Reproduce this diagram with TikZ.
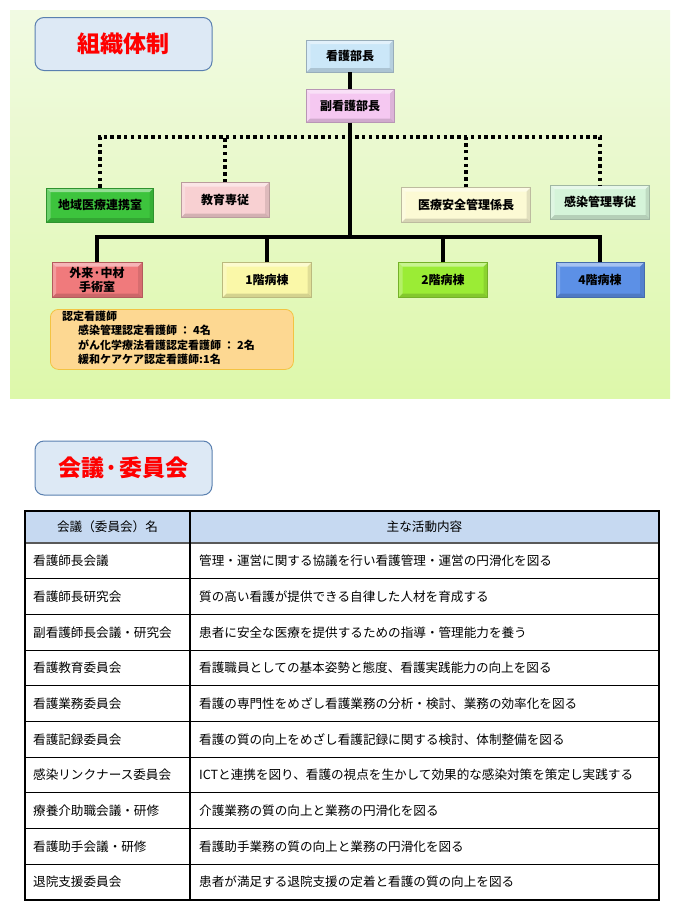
\documentclass[tikz,border=0pt]{standalone}
\usepackage{fontspec}
\setmainfont{Noto Sans CJK JP}
\usetikzlibrary{positioning,calc}

\definecolor{panelTop}{HTML}{F1FAE3}
\definecolor{panelBot}{HTML}{DDF8AA}
\definecolor{titleFill}{HTML}{DDE9F5}
\definecolor{titleLine}{HTML}{5A80B0}
\definecolor{headFill}{HTML}{C6D9F1}
\definecolor{noteFill}{HTML}{FDD892}
\definecolor{noteLine}{HTML}{F3C342}
\definecolor{buchoFill}{HTML}{CBE7F8}
\definecolor{fukuFill}{HTML}{F5C8F1}
\definecolor{chiikiFill}{HTML}{3DC43D}
\definecolor{kyoikuFill}{HTML}{F8D0D2}
\definecolor{anzenFill}{HTML}{FCFAD4}
\definecolor{kansenFill}{HTML}{D5F4D9}
\definecolor{gairaiFill}{HTML}{F07A7C}
\definecolor{wardOneFill}{HTML}{FAF8A8}
\definecolor{wardTwoFill}{HTML}{9BEC35}
\definecolor{wardFourFill}{HTML}{5C90E6}

\tikzset{
  bevel/.style={fill=#1, draw=#1!75!black, line width=.4pt, inner sep=0pt,
    font=\fontsize{12}{14.5}\selectfont\bfseries, align=center,
    path picture={
      \fill[white,opacity=.45] (path picture bounding box.north west) -- (path picture bounding box.north east)
        -- ([shift={(-4pt,-4pt)}]path picture bounding box.north east) -- ([shift={(4pt,-4pt)}]path picture bounding box.north west) -- cycle;
      \fill[white,opacity=.25] (path picture bounding box.north west) -- (path picture bounding box.south west)
        -- ([shift={(4pt,4pt)}]path picture bounding box.south west) -- ([shift={(4pt,-4pt)}]path picture bounding box.north west) -- cycle;
      \fill[black,opacity=.15] (path picture bounding box.south west) -- (path picture bounding box.south east)
        -- ([shift={(-4pt,4pt)}]path picture bounding box.south east) -- ([shift={(4pt,4pt)}]path picture bounding box.south west) -- cycle;
      \fill[black,opacity=.10] (path picture bounding box.north east) -- (path picture bounding box.south east)
        -- ([shift={(-4pt,4pt)}]path picture bounding box.south east) -- ([shift={(-4pt,-4pt)}]path picture bounding box.north east) -- cycle;
    }},
  titlebox/.style={draw=titleLine, fill=titleFill, line width=1pt, rounded corners=9pt,
    minimum width=177pt, minimum height=53pt, text=red, font=\fontsize{23}{26}\selectfont\bfseries},
  solidline/.style={line width=3.2pt, black},
  dotline/.style={line width=3.4pt, black, dash pattern=on 3.4pt off 3.4pt},
  cell/.style={anchor=west, inner sep=0pt, font=\fontsize{12.6}{15}\selectfont},
}

\begin{document}
\begin{tikzpicture}[x=1pt,y=-1pt]
\useasboundingbox[fill=white] (0,0) rectangle (680,918);
\shade[top color=panelTop, bottom color=panelBot] (10,10) rectangle (670,398);

% organisation
\node[titlebox] (orgtitle) at (123.5,44) {組織体制};
\node[bevel=buchoFill, minimum width=87pt, minimum height=32pt] (bucho) at (350,56) {看護部長};
\node[bevel=fukuFill, minimum width=88pt, minimum height=33pt] (fukubucho) at (350,106) {副看護部長};

\node[bevel=chiikiFill, minimum width=107pt, minimum height=34pt] (chiiki) at (100,205) {地域医療連携室};
\node[bevel=kyoikuFill, minimum width=88pt, minimum height=35pt] (kyoiku) at (225,200) {教育専従};
\node[bevel=anzenFill, minimum width=129pt, minimum height=35pt] (anzen) at (466,205) {医療安全管理係長};
\node[bevel=kansenFill, minimum width=99pt, minimum height=34pt] (kansen) at (600,202) {感染管理専従};

\node[bevel=gairaiFill, minimum width=90pt, minimum height=35pt] (gairai) at (97,280) {外来·中材\\手術室};
\node[bevel=wardOneFill, minimum width=89pt, minimum height=35pt] (ward1) at (267,280) {1階病棟};
\node[bevel=wardTwoFill, minimum width=89pt, minimum height=35pt] (ward2) at (443,280) {2階病棟};
\node[bevel=wardFourFill, minimum width=88pt, minimum height=35pt] (ward4) at (600,280) {4階病棟};

\coordinate (staffbar) at (350,137);
\coordinate (wardbar) at (350,237);

\draw[solidline] (bucho) -- (fukubucho);
\draw[solidline] (fukubucho) -- (fukubucho |- wardbar);
\draw[dotline] (chiiki.north) -- (chiiki.north |- staffbar) -- (kansen.north |- staffbar) -- (kansen.north);
\draw[dotline] (kyoiku.north) -- (kyoiku.north |- staffbar);
\draw[dotline] (anzen.north) -- (anzen.north |- staffbar);
\draw[solidline] (gairai.north) -- (gairai.north |- wardbar) -- (ward4.north |- wardbar) -- (ward4.north);
\draw[solidline] (ward1.north) -- (ward1.north |- wardbar);
\draw[solidline] (ward2.north) -- (ward2.north |- wardbar);

\node[draw=noteLine, fill=noteFill, line width=.8pt, rounded corners=8pt, anchor=north west,
  minimum width=243pt, minimum height=60pt, inner sep=0pt] (notebox) at (50,309) {};
\node[anchor=north west, align=left, inner sep=0pt, font=\fontsize{11}{14.2}\selectfont\bfseries] (notetext) at (62,311)
  {認定看護師\\
   \hspace{16pt}感染管理認定看護師 ： 4名\\
   \hspace{16pt}がん化学療法看護認定看護師 ： 2名\\
   \hspace{16pt}緩和ケアケア認定看護師:1名};

% meetings
\node[titlebox, minimum height=54pt] (meettitle) at (123.5,468) {会議·委員会};

\fill[headFill] (25,511) rectangle (659,543);
\node[font=\fontsize{12.6}{15}\selectfont] (headname) at (107.5,527) {会議（委員会）名};
\node[font=\fontsize{12.6}{15}\selectfont] (headact) at (424.5,527) {主な活動内容};
\draw[line width=2pt, gray!70!black] (25,543) -- (659,543);

\foreach \name/\act [count=\i] in {
  看護師長会議/管理・運営に関する協議を行い看護管理・運営の円滑化を図る,
  看護師長研究会/質の高い看護が提供できる自律した人材を育成する,
  副看護師長会議・研究会/患者に安全な医療を提供するための指導・管理能力を養う,
  看護教育委員会/看護職員としての基本姿勢と態度、看護実践能力の向上を図る,
  看護業務委員会/看護の専門性をめざし看護業務の分析・検討、業務の効率化を図る,
  看護記録委員会/看護の質の向上をめざし看護記録に関する検討、体制整備を図る,
  感染リンクナース委員会/ICTと連携を図り、看護の視点を生かして効果的な感染対策を策定し実践する,
  療養介助職会議・研修/介護業務の質の向上と業務の円滑化を図る,
  看護助手会議・研修/看護助手業務の質の向上と業務の円滑化を図る,
  退院支援委員会/患者が満足する退院支援の定着と看護の質の向上を図る}{
  \node[cell] (name\i) at (33,{543+35.7*(\i-0.5)}) {\name};
  \node[cell] (act\i) at (199,{543+35.7*(\i-0.5)}) {\act};
  \draw[line width=1pt] (25,{543+35.7*\i}) -- (659,{543+35.7*\i});
}
\draw[line width=1.3pt] (25,511) rectangle (659,900);
\draw[line width=1.3pt] (190,511) -- (190,900);
\end{tikzpicture}
\end{document}
